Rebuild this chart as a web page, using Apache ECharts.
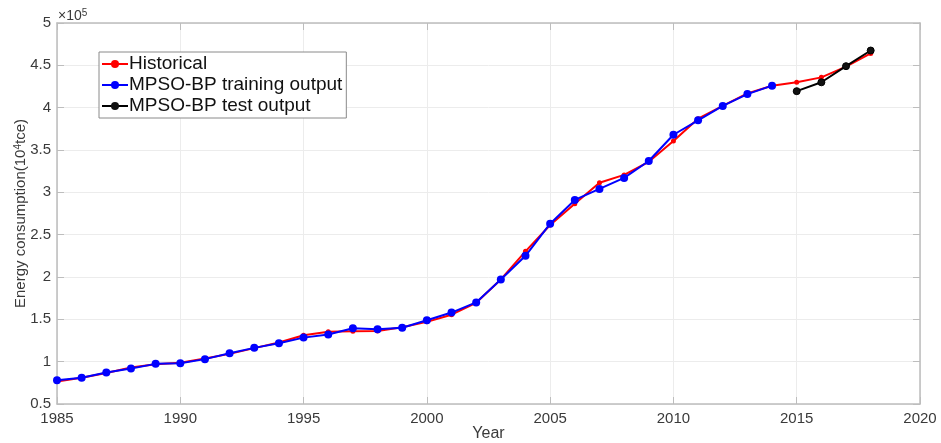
<!DOCTYPE html>
<html>
<head>
<meta charset="utf-8">
<script src="https://cdn.jsdelivr.net/npm/echarts@6/dist/echarts.min.js"></script>
<style>html,body{margin:0;padding:0;background:#fff;}#c{width:941px;height:443px;}</style>
</head>
<body>
<div id="c"></div>
<script>
var histYears = [1985,1986,1987,1988,1989,1990,1991,1992,1993,1994,1995,1996,1997,1998,1999,2000,2001,2002,2003,2004,2005,2006,2007,2008,2009,2010,2011,2012,2013,2014,2015,2016,2017,2018];
var historical = [76700,80900,86600,93000,96900,98700,103800,109200,116000,122700,131200,135200,135900,136200,140600,147000,155500,169600,197100,230300,261400,286500,311400,320600,336100,360600,387000,402100,416900,425800,429900,435800,448500,464000];
var trainYears = [1985,1986,1987,1988,1989,1990,1991,1992,1993,1994,1995,1996,1997,1998,1999,2000,2001,2002,2003,2004,2005,2006,2007,2008,2009,2010,2011,2012,2013,2014];
var training = [78000,81000,87300,92000,97400,98000,103000,110000,116300,121800,128400,132000,139400,138200,140000,149000,158000,170000,197000,225000,263000,291000,304000,317000,337000,368000,385000,402000,416000,426000];
var testYears = [2015,2016,2017,2018];
var test = [419500,430000,449000,467500];
var xTicks = [1985,1990,1995,2000,2005,2010,2015,2020];
var yTicks = [0.5,1,1.5,2,2.5,3,3.5,4,4.5,5];
var yScale = 100000;

function pairs(xs, ys){ return xs.map(function(x,i){ return [x, ys[i]]; }); }

var chart = echarts.init(document.getElementById('c'));
var axisGray = '#bdbdbd';
var labelColor = '#3a3a3a';
var font = 'Liberation Sans, Arial, sans-serif';
chart.setOption({
  animation: false,
  backgroundColor: '#fff',
  grid: {left: 57, right: 21, top: 23, bottom: 39, containLabel: false, outerBoundsMode: 'none'},
  legend: {
    left: 99, top: 52, orient: 'vertical',
    itemWidth: 26, itemHeight: 10, itemGap: 1,
    padding: [2, 4, 2, 2],
    borderColor: '#8a8a8a', borderWidth: 1, backgroundColor: '#fff',
    textStyle: {fontFamily: font, fontSize: 19, lineHeight: 20, color: '#111', padding: [0,0,0,-4]},
    data: ['Historical', 'MPSO-BP training output', 'MPSO-BP test output']
  },
  xAxis: [{
    type: 'value', min: xTicks[0], max: xTicks[xTicks.length-1], interval: 5,
    name: 'Year', nameLocation: 'middle', nameGap: 22, nameMoveOverlap: false,
    nameTextStyle: {fontFamily: font, fontSize: 16, color: labelColor},
    axisLine: {lineStyle: {color: axisGray, width: 1.5}},
    axisTick: {inside: true, length: 7, lineStyle: {color: axisGray}},
    axisLabel: {fontFamily: font, fontSize: 15, color: labelColor, margin: 7,
      formatter: function(v){ return String(v); }},
    splitLine: {show: true, lineStyle: {color: '#ececec'}}
  }, {
    type: 'value', position: 'top', min: xTicks[0], max: xTicks[xTicks.length-1], interval: 5,
    axisLine: {show: true, lineStyle: {color: axisGray, width: 1.5}},
    axisTick: {show: true, inside: true, length: 7, lineStyle: {color: axisGray}},
    axisLabel: {show: false}, splitLine: {show: false}
  }],
  yAxis: [{
    type: 'value', min: yTicks[0]*yScale, max: yTicks[yTicks.length-1]*yScale, interval: 0.5*yScale,
    name: '{a|Energy consumption(10}{s|4}{a|tce)}', nameLocation: 'middle', nameGap: 28, nameMoveOverlap: false,
    nameTextStyle: {fontFamily: font, fontSize: 15, color: labelColor,
      rich: {a: {fontFamily: font, fontSize: 15, color: labelColor},
             s: {fontFamily: font, fontSize: 10, color: labelColor, verticalAlign: 'top', padding: [0,0,6,0]}}},
    axisLine: {show: true, lineStyle: {color: axisGray, width: 1.5}},
    axisTick: {show: true, inside: true, length: 7, lineStyle: {color: axisGray}},
    axisLabel: {fontFamily: font, fontSize: 15, color: labelColor, margin: 6,
      formatter: function(v){ return String(Math.round(v/yScale*10)/10); }},
    splitLine: {show: true, lineStyle: {color: '#ececec'}}
  }, {
    type: 'value', position: 'right', min: yTicks[0]*yScale, max: yTicks[yTicks.length-1]*yScale, interval: 0.5*yScale,
    axisLine: {show: true, lineStyle: {color: axisGray, width: 1.5}},
    axisTick: {show: true, inside: true, length: 7, lineStyle: {color: axisGray}},
    axisLabel: {show: false}, splitLine: {show: false}
  }],
  graphic: [{
    type: 'text', left: 58, top: 8,
    style: {text: '{a|×10}{s|5}', rich: {
      a: {fontFamily: font, fontSize: 14, fill: labelColor},
      s: {fontFamily: font, fontSize: 10, fill: labelColor, verticalAlign: 'top', padding: [0,0,6,0]}}}
  }],
  series: [{
    name: 'Historical', type: 'line', data: pairs(histYears, historical),
    symbol: 'circle', symbolSize: 5, color: '#ff0000',
    lineStyle: {width: 2, color: '#ff0000'}, itemStyle: {color: '#ff0000'}, z: 2
  }, {
    name: 'MPSO-BP training output', type: 'line', data: pairs(trainYears, training),
    symbol: 'circle', symbolSize: 8, color: '#0000ff',
    lineStyle: {width: 2, color: '#0000ff'}, itemStyle: {color: '#0000ff'}, z: 3
  }, {
    name: 'MPSO-BP test output', type: 'line', data: pairs(testYears, test),
    symbol: 'circle', symbolSize: 7, color: '#000',
    lineStyle: {width: 2, color: '#000'}, itemStyle: {color: '#111', borderColor: '#000'}, z: 4
  }]
});
</script>
</body>
</html>
